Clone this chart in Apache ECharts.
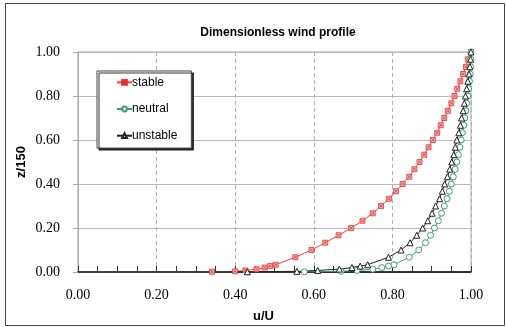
<html>
<head>
    <style>
        * { margin: 0; padding: 0; }
        #chart-container { width: 506px; height: 327px; background: #fff; }
    </style>
</head>
<body>
<div id="chart-container"></div>
<script src="https://cdn.jsdelivr.net/npm/echarts@6/dist/echarts.min.js"></script>
<script>
    // z/150 levels, shared by all three profiles
    const zLevels = [0, 0.001, 0.003, 0.007, 0.013, 0.020, 0.027, 0.033, 0.067, 0.100, 0.133, 0.167, 0.200,
        0.233, 0.267, 0.300, 0.333, 0.367, 0.400, 0.433, 0.467, 0.500, 0.533, 0.567, 0.600, 0.633, 0.667,
        0.700, 0.733, 0.767, 0.800, 0.833, 0.867, 0.900, 0.933, 0.967, 1.000];

    // u/U for each stability class
    const stable = [0, 0.341, 0.400, 0.426, 0.454, 0.475, 0.489, 0.503, 0.553, 0.594, 0.629, 0.663, 0.695,
        0.724, 0.750, 0.771, 0.791, 0.809, 0.826, 0.843, 0.856, 0.869, 0.881, 0.892, 0.903, 0.914, 0.923,
        0.932, 0.941, 0.950, 0.958, 0.965, 0.973, 0.980, 0.987, 0.992, 1.000];
    const neutral = [0, 0.576, 0.669, 0.710, 0.750, 0.773, 0.790, 0.804, 0.843, 0.867, 0.884, 0.897, 0.907,
        0.917, 0.925, 0.932, 0.939, 0.945, 0.950, 0.955, 0.960, 0.964, 0.968, 0.972, 0.975, 0.978, 0.982,
        0.984, 0.987, 0.989, 0.992, 0.994, 0.996, 0.998, 0.999, 1.000, 1.000];
    const unstable = [0, 0.431, 0.557, 0.610, 0.665, 0.697, 0.718, 0.737, 0.790, 0.822, 0.845, 0.862, 0.877,
        0.890, 0.901, 0.910, 0.920, 0.927, 0.933, 0.940, 0.946, 0.951, 0.956, 0.960, 0.964, 0.969, 0.973,
        0.976, 0.980, 0.983, 0.986, 0.989, 0.992, 0.995, 0.997, 0.999, 1.000];

    function pairs(xs) {
        return xs.map(function (x, i) { return [x, zLevels[i]]; });
    }
    // first point (ground) has no marker
    function markSize(size) {
        return function (val, params) { return params.dataIndex === 0 ? 0 : size; };
    }

    var myChart = echarts.init(document.getElementById('chart-container'), null, { renderer: 'canvas' });

    var serif = 'Liberation Serif, Times New Roman, serif';
    var sans = 'Liberation Sans, Arial, sans-serif';

    var option = {
        animation: false,
        title: {
            text: 'Dimensionless wind profile',
            left: 273, top: 17, textAlign: 'center',
            textStyle: { fontFamily: sans, fontSize: 12, fontWeight: 'bold', color: '#000' }
        },
        graphic: [{
            type: 'rect', silent: true,
            shape: { x: 5.5, y: 3.5, width: 499, height: 322 },
            style: { fill: 'none', stroke: '#444', lineWidth: 1 }
        }],
        legend: {
            orient: 'vertical',
            left: 97, top: 71,
            padding: [1, 14, 2, 19],
            itemGap: 6,
            itemWidth: 15, itemHeight: 6,
            backgroundColor: '#fff',
            borderColor: '#444', borderWidth: 1, borderRadius: 0,
            shadowColor: 'rgba(0,0,0,0.8)', shadowOffsetX: 2, shadowOffsetY: 2,
            textStyle: { fontFamily: sans, fontSize: 12, color: '#000', padding: [0, 0, 0, -5] },
            data: ['stable', 'neutral', 'unstable']
        },
        grid: {
            left: 78, right: 35, top: 52, bottom: 55,
            outerBoundsMode: 'none',
            show: true, borderColor: '#a8a8a8', borderWidth: 1
        },
        xAxis: {
            type: 'value', min: 0, max: 1, interval: 0.2,
            name: 'u/U', nameLocation: 'middle', nameGap: 33, nameMoveOverlap: false,
            nameTextStyle: { fontFamily: sans, fontSize: 13, fontWeight: 'bold', color: '#000', padding: [0, 22, 0, 0] },
            axisLine: { show: true, lineStyle: { color: '#000', width: 1.5 } },
            axisTick: { show: true, inside: true, length: 6, lineStyle: { color: '#333' } },
            minorTick: { show: true, splitNumber: 4, length: 6, lineStyle: { color: '#333' } },
            axisLabel: {
                fontFamily: serif, fontSize: 14, color: '#000', margin: 13,
                formatter: function (v) { return v.toFixed(2); }
            },
            splitLine: { show: true, lineStyle: { color: '#b0b0b0', type: [4, 3] } }
        },
        yAxis: {
            type: 'value', min: 0, max: 1, interval: 0.2,
            name: 'z/150', nameLocation: 'middle', nameGap: 45, nameRotate: 90, nameMoveOverlap: false,
            nameTextStyle: { fontFamily: sans, fontSize: 13, fontWeight: 'bold', color: '#000', padding: [0, 0, 0, 0] },
            axisLine: { show: true, lineStyle: { color: '#a8a8a8' } },
            axisTick: { show: true, length: 5, lineStyle: { color: '#a8a8a8' } },
            axisLabel: {
                fontFamily: serif, fontSize: 14, color: '#000', margin: 18,
                formatter: function (v) { return v.toFixed(2); }
            },
            splitLine: { show: true, lineStyle: { color: '#b8b8b8', width: 1 } }
        },
        series: [
            {
                name: 'stable', type: 'line', data: pairs(stable),
                symbol: 'path://M0,0H10V10H0Z M2,2L8,8 M8,2L2,8',
                symbolSize: markSize(5), showAllSymbol: true,
                itemStyle: { color: '#f2b4b4', borderColor: '#e83030', borderWidth: 0.8 },
                lineStyle: { color: '#ff3b3b', width: 1 }
            },
            {
                name: 'neutral', type: 'line', data: pairs(neutral),
                symbol: 'circle', symbolSize: markSize(6), showAllSymbol: true,
                itemStyle: { color: '#fff', borderColor: '#3f9c72', borderWidth: 1 },
                lineStyle: { color: '#3f9c72', width: 1 }
            },
            {
                name: 'unstable', type: 'line', data: pairs(unstable),
                symbol: 'triangle', symbolSize: markSize(6), showAllSymbol: true,
                itemStyle: { color: '#fff', borderColor: '#222', borderWidth: 1 },
                lineStyle: { color: '#222', width: 1 }
            }
        ]
    };

    myChart.setOption(option);
    window.addEventListener('resize', myChart.resize);
</script>
</body>
</html>
